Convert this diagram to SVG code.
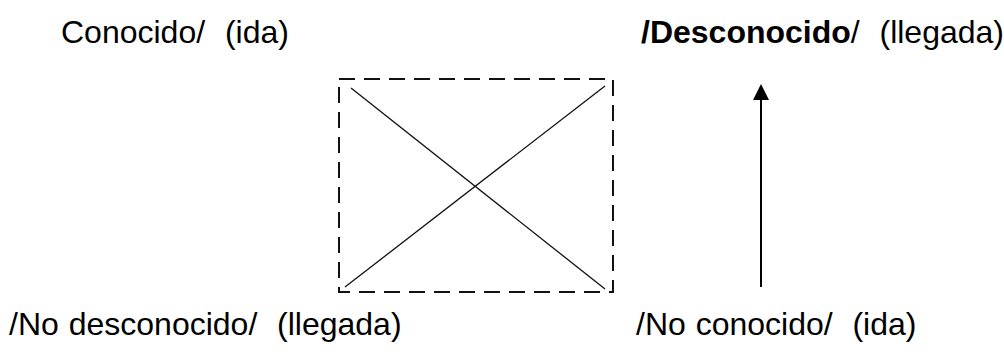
<svg xmlns="http://www.w3.org/2000/svg" width="1004" height="361" viewBox="0 0 1004 361">
<style>
text{font-family:"Liberation Sans",Arial,sans-serif;font-size:32px;fill:#000;white-space:pre;word-spacing:1px}
.b{font-weight:bold}
.dash{fill:none;stroke:#111;stroke-width:2;stroke-dasharray:16 9}
.ln{stroke:#111;stroke-width:1.3}
.arr{stroke:#000;stroke-width:2}
</style>
<rect width="1004" height="361" fill="#fff"/>
<g id="box">
<rect class="dash" x="339" y="79" width="274" height="213"/>
<line class="ln" x1="351" y1="88" x2="605" y2="289"/>
<line class="ln" x1="605" y1="86" x2="345" y2="287"/>
</g>
<g id="connectors">
<line x1="761" y1="287" x2="761" y2="100" class="arr"/>
<path d="M761,84 L769,100 L753,100 z" fill="#000"/>
</g>
<g id="t1"><text x="61" y="43" xml:space="preserve">Conocido/  (ida)</text></g>
<g id="t2"><text x="641" y="43" xml:space="preserve"><tspan class="b">/Desconocido</tspan>/  (llegada)</text></g>
<g id="t3"><text x="9" y="335" xml:space="preserve">/No desconocido/  (llegada)</text></g>
<g id="t4"><text x="636" y="335" xml:space="preserve">/No conocido/  (ida)</text></g>
</svg>
